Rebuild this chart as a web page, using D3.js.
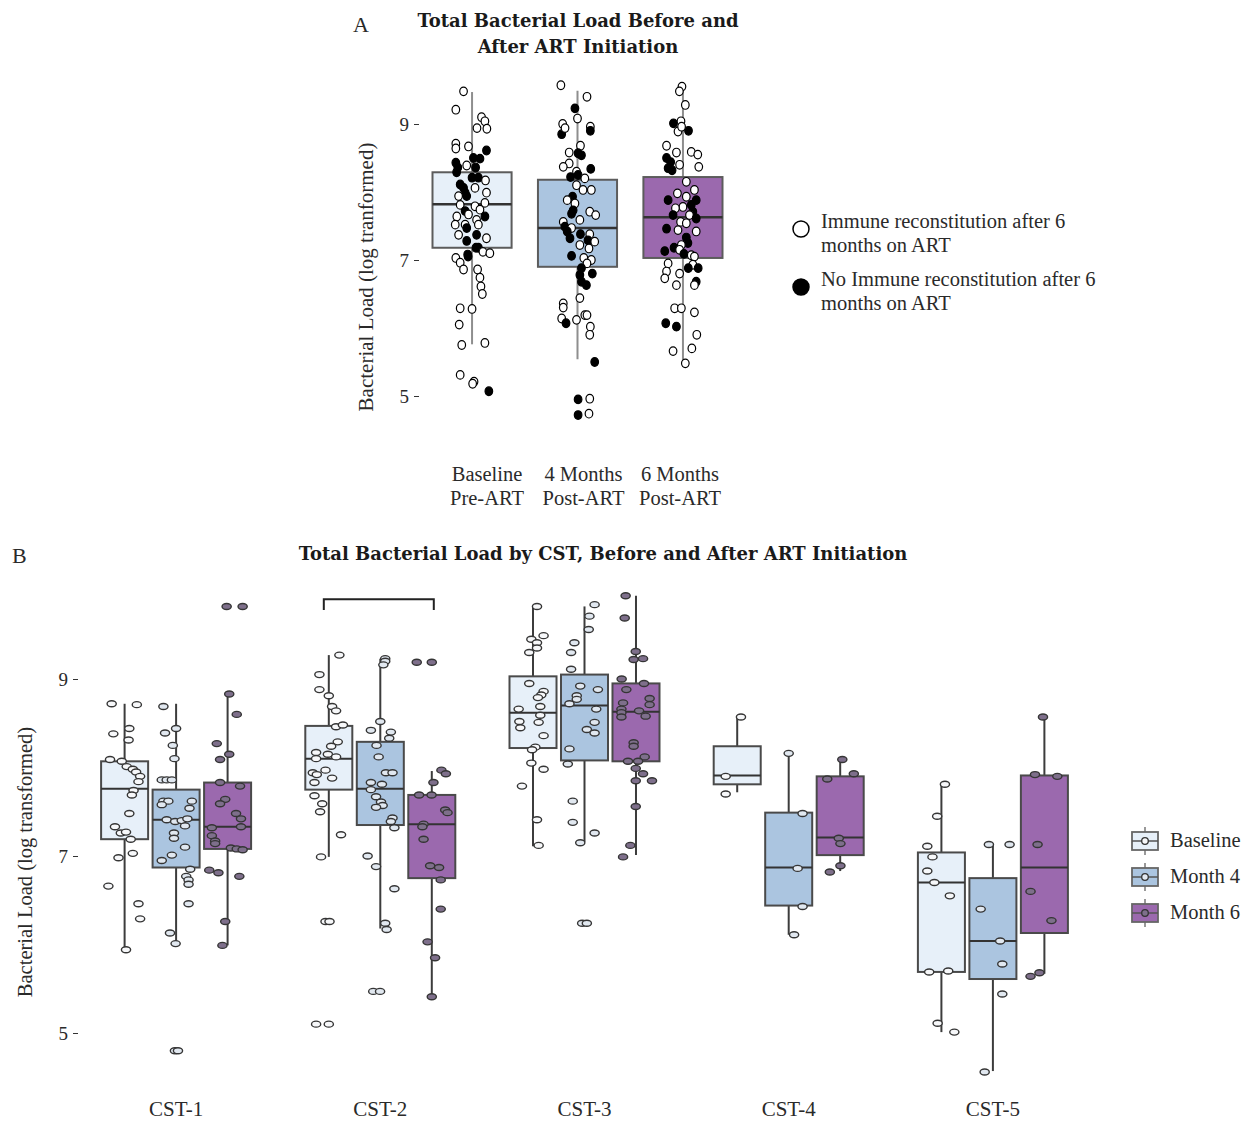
<!DOCTYPE html>
<html>
<head>
<meta charset="utf-8">
<script src="https://cdn.jsdelivr.net/npm/d3@7"></script>
<style>
body{margin:0;background:#fff;}
text{font-family:"Liberation Serif",serif;fill:#2a2a2a;}
.title{font-family:"DejaVu Serif",serif;font-weight:bold;font-size:18px;fill:#1a1a1a;}
</style>
</head>
<body>
<script>
// ---- data: panel A ----
let times = ["Baseline","Month 4","Month 6"];
let timeLabelsA = [["Baseline","Pre-ART"],["4 Months","Post-ART"],["6 Months","Post-ART"]];
// [min, q1, median, q3, max]
let statsA = [[5.76,7.18,7.82,8.29,9.47],[5.54,6.90,7.47,8.18,9.49],[5.49,7.03,7.63,8.22,9.56]];
// [value, jitter, no immune reconstitution]
let ptsA0 = [[9.48,-0.43,0],[9.21,-0.82,0],[9.10,0.48,0],[9.04,0.65,0],[8.94,0.25,0],[8.93,0.75,0],[8.71,-0.82,0],[8.64,-0.82,0],[8.67,-0.18,0],[8.61,0.73,1],[8.50,0.07,1],[8.49,0.40,1],[8.43,-0.82,1],[8.36,-0.72,1],[8.39,-0.27,0],[8.36,0.18,1],[8.29,-0.78,1],[8.11,-0.60,1],[8.06,-0.43,1],[8.21,0.00,1],[8.21,0.32,1],[8.17,0.68,0],[7.99,-0.35,1],[7.94,-0.68,0],[7.94,-0.27,1],[7.99,0.73,0],[8.06,0.15,0],[7.84,0.65,0],[7.81,-0.60,0],[7.79,0.15,0],[7.72,-0.35,1],[7.74,0.40,0],[7.64,-0.77,0],[7.67,-0.18,0],[7.64,0.65,1],[7.59,0.23,0],[7.52,-0.85,0],[7.52,-0.35,0],[7.52,0.32,0],[7.47,-0.27,1],[7.37,-0.68,0],[7.37,0.23,1],[7.32,0.73,0],[7.28,-0.27,1],[7.18,0.20,1],[7.18,0.32,1],[7.12,0.55,0],[7.10,0.90,0],[7.08,-0.22,1],[7.03,-0.82,0],[7.05,-0.20,1],[6.96,-0.60,0],[6.86,-0.43,0],[6.86,0.28,0],[6.74,0.40,0],[6.61,0.45,0],[6.50,0.52,0],[6.29,-0.60,0],[6.28,0.00,0],[6.05,-0.65,0],[5.75,-0.52,0],[5.78,0.65,0],[5.31,-0.60,0],[5.21,0.10,0],[5.18,0.03,0],[5.07,0.85,1]];
let ptsA1 = [[9.57,-0.84,0],[9.40,0.48,0],[9.23,-0.13,1],[9.08,0.00,0],[9.00,-0.75,0],[8.85,-0.80,1],[8.94,-0.63,0],[8.96,0.65,0],[8.90,0.65,1],[8.68,0.15,0],[8.58,-0.42,0],[8.57,0.03,1],[8.54,0.20,1],[8.42,-0.42,0],[8.37,-0.72,0],[8.34,0.67,1],[8.30,-0.05,0],[8.22,-0.35,1],[8.25,0.03,1],[8.20,0.37,0],[8.10,-0.05,0],[8.03,0.28,0],[8.03,0.70,0],[7.93,-0.25,1],[7.88,-0.52,0],[7.83,-0.13,0],[7.73,-0.22,1],[7.68,-0.30,1],[7.71,0.62,0],[7.66,0.92,0],[7.56,-0.72,0],[7.59,0.12,0],[7.49,-0.64,1],[7.47,-0.30,0],[7.42,-0.52,1],[7.38,0.15,1],[7.38,0.62,0],[7.32,-0.38,1],[7.29,0.53,1],[7.27,0.87,0],[7.22,0.12,0],[7.17,0.58,0],[7.06,-0.30,1],[7.03,0.32,0],[7.00,0.70,0],[6.95,0.48,0],[6.88,0.20,1],[6.80,0.75,1],[6.78,0.12,1],[6.68,0.20,1],[6.63,0.45,1],[6.44,0.12,0],[6.36,-0.72,0],[6.30,-0.72,0],[6.14,-0.80,0],[6.07,-0.58,1],[6.12,-0.05,0],[6.19,0.37,0],[6.19,0.48,0],[6.02,0.65,0],[5.90,0.62,0],[5.50,0.87,1],[4.95,0.03,1],[4.96,0.62,0],[4.72,0.03,1],[4.74,0.58,0]];
let ptsA2 = [[9.55,-0.05,0],[9.48,-0.18,0],[9.28,0.12,0],[9.01,-0.48,1],[9.04,-0.10,0],[8.89,-0.25,0],[8.90,0.28,1],[8.96,-0.07,0],[8.68,-0.83,0],[8.58,-0.33,0],[8.59,0.42,0],[8.55,0.75,0],[8.50,-0.83,1],[8.44,-0.62,1],[8.35,-0.75,1],[8.32,-0.55,1],[8.40,-0.17,0],[8.37,0.80,0],[8.15,0.17,0],[7.98,-0.28,0],[8.03,0.58,0],[7.88,-0.75,1],[7.93,0.17,0],[7.88,0.67,1],[7.81,0.42,1],[7.78,0.00,0],[7.76,-0.38,0],[7.71,0.50,1],[7.66,-0.50,1],[7.66,0.33,0],[7.56,-0.12,0],[7.61,0.67,1],[7.54,0.17,0],[7.46,-0.83,1],[7.44,-0.25,0],[7.42,0.67,0],[7.33,0.17,1],[7.25,0.25,1],[7.22,-0.08,0],[7.13,-0.92,1],[7.18,-0.45,1],[7.15,-0.17,0],[7.09,0.05,1],[7.07,0.42,0],[7.05,0.58,0],[6.95,-0.75,0],[6.93,0.50,0],[6.88,0.27,1],[6.88,0.77,1],[6.83,-0.83,0],[6.80,-0.17,0],[6.73,-0.92,0],[6.68,0.67,1],[6.63,0.58,0],[6.63,-0.33,0],[6.29,-0.42,0],[6.29,-0.08,0],[6.23,0.58,0],[6.07,-0.87,1],[6.02,-0.33,1],[5.90,0.70,0],[5.70,0.45,0],[5.66,-0.50,0],[5.48,0.12,0]];
let legendA = [["Immune reconstitution after 6","months on ART"],["No Immune reconstitution after 6","months on ART"]];

// ---- data: panel B ----
let csts = ["CST-1","CST-2","CST-3","CST-4","CST-5"];
let legendB = ["Baseline","Month 4","Month 6"];
let statsB = [
  [[5.95,7.19,7.76,8.07,8.72],[6.00,6.87,7.41,7.75,8.72],[5.99,7.08,7.33,7.83,8.83]],
  [[6.99,7.75,8.10,8.47,9.27],[6.18,7.35,7.76,8.29,9.23],[5.41,6.75,7.36,7.69,7.96]],
  [[7.11,8.22,8.62,9.03,9.82],[7.16,8.08,8.70,9.05,9.82],[7.01,8.07,8.63,8.95,9.94]],
  [[7.72,7.81,7.91,8.24,8.57],[6.11,6.44,6.87,7.49,8.16],[6.83,7.01,7.21,7.90,8.09]],
  [[5.01,5.69,6.70,7.04,7.81],[4.57,5.61,6.04,6.75,7.13],[5.67,6.13,6.87,7.91,8.57]]
];
let ptsCst1 = [
  [[8.72,-0.55],[8.71,0.52],[8.44,0.20],[8.38,-0.48],[8.31,0.17],[8.09,-0.62],[8.07,-0.12],[8.01,0.09],[7.98,0.35],[7.95,0.49],[7.90,0.66],[7.84,0.59],[7.74,0.38],[7.69,0.31],[7.48,0.20],[7.33,-0.41],[7.26,-0.16],[7.27,0.06],[7.19,0.26],[7.03,0.35],[6.98,-0.26],[6.66,-0.69],[6.46,0.59],[6.29,0.66],[5.94,0.06]],
  [[8.69,-0.54],[8.44,0.00],[8.39,-0.47],[8.25,-0.14],[8.10,-0.07],[7.86,-0.61],[7.86,-0.40],[7.86,-0.18],[7.62,-0.54],[7.62,-0.33],[7.62,0.67],[7.58,-0.61],[7.54,0.57],[7.41,-0.40],[7.39,-0.04],[7.40,0.24],[7.42,0.48],[7.34,0.38],[7.26,-0.09],[7.20,-0.09],[7.10,0.38],[7.01,-0.18],[6.95,-0.61],[6.85,0.60],[6.77,0.43],[6.73,0.53],[6.68,0.53],[6.46,0.53],[6.13,-0.26],[6.01,-0.02],[4.80,-0.05],[4.80,0.08]],
  [[9.82,-0.04],[9.82,0.64],[8.83,0.07],[8.60,0.39],[8.27,-0.46],[8.09,-0.32],[8.15,0.07],[7.83,-0.32],[7.79,0.53],[7.64,-0.10],[7.59,-0.32],[7.48,0.36],[7.42,0.57],[7.32,-0.67],[7.33,0.57],[7.23,-0.67],[7.17,-0.53],[7.14,-0.53],[7.09,0.14],[7.08,0.39],[7.07,0.64],[6.84,-0.78],[6.81,-0.39],[6.77,0.50],[6.26,-0.10],[5.99,-0.22]]
];
let ptsCst2 = [
  [[9.27,0.45],[9.05,-0.40],[8.88,-0.40],[8.81,0.00],[8.69,0.14],[8.64,0.31],[8.46,0.31],[8.48,0.60],[8.29,0.38],[8.24,0.10],[8.17,-0.54],[8.15,-0.04],[8.10,-0.54],[8.12,0.31],[7.97,-0.14],[7.94,-0.68],[7.92,-0.51],[7.88,0.14],[7.83,-0.61],[7.68,-0.61],[7.59,-0.28],[7.50,-0.37],[7.24,0.52],[6.99,-0.33],[6.26,-0.14],[6.26,0.03],[5.10,-0.54],[5.10,0.00]],
  [[9.23,0.21],[9.20,0.21],[9.16,0.13],[8.52,0.00],[8.42,-0.40],[8.40,0.45],[8.33,0.38],[8.25,-0.16],[8.12,-0.07],[7.94,0.24],[7.94,0.52],[7.83,-0.40],[7.81,0.07],[7.75,-0.40],[7.67,-0.18],[7.61,0.03],[7.57,0.10],[7.55,-0.18],[7.43,0.52],[7.39,0.45],[7.32,0.60],[7.00,-0.54],[6.88,-0.18],[6.63,0.60],[6.24,0.21],[6.17,0.27],[5.47,-0.30],[5.47,-0.01]],
  [[9.19,-0.64],[9.19,0.00],[7.97,0.41],[7.93,0.60],[7.83,0.07],[7.69,-0.54],[7.69,-0.01],[7.52,0.57],[7.49,0.67],[7.36,-0.35],[7.33,-0.40],[7.19,-0.35],[6.89,-0.07],[6.87,0.31],[6.73,0.38],[6.40,0.38],[6.03,-0.18],[5.85,0.14],[5.41,0.00]]
];
let ptsCst3 = [
  [[9.82,0.17],[9.49,0.45],[9.45,-0.07],[9.41,0.17],[9.35,0.17],[9.30,-0.16],[8.95,-0.16],[8.86,0.45],[8.82,0.35],[8.79,0.21],[8.66,-0.61],[8.69,0.31],[8.52,-0.58],[8.45,-0.54],[8.59,0.31],[8.51,0.24],[8.36,0.45],[8.23,0.10],[8.20,-0.04],[8.05,-0.07],[7.98,0.45],[7.79,-0.47],[7.41,0.17],[7.12,0.24]],
  [[9.84,0.43],[9.71,0.21],[9.56,0.18],[9.41,-0.43],[9.30,-0.57],[9.11,-0.57],[8.92,-0.18],[8.88,0.57],[8.81,-0.33],[8.77,-0.33],[8.72,-0.64],[8.66,0.50],[8.51,0.43],[8.43,0.10],[8.39,0.43],[8.21,-0.64],[8.04,-0.71],[7.62,-0.50],[7.38,-0.50],[7.26,0.43],[7.15,-0.18],[6.24,-0.10],[6.24,0.10]],
  [[9.94,-0.44],[9.69,-0.48],[9.31,-0.01],[9.22,-0.10],[9.23,0.30],[9.00,-0.61],[8.95,0.34],[8.88,-0.41],[8.78,0.58],[8.71,0.58],[8.73,-0.55],[8.66,-0.62],[8.62,-0.62],[8.57,-0.62],[8.64,0.13],[8.58,0.41],[8.28,-0.10],[8.24,-0.10],[8.12,0.37],[8.07,-0.34],[8.07,0.09],[7.99,-0.01],[7.93,0.30],[7.85,-0.01],[7.85,0.68],[7.56,-0.01],[7.12,-0.24],[6.99,-0.55]]
];
let ptsCst4 = [
  [[8.57,0.16],[7.90,-0.49],[7.70,-0.49]],
  [[8.16,0.00],[7.48,0.59],[6.86,0.38],[6.43,0.59],[6.11,0.23]],
  [[8.09,0.09],[7.87,-0.55],[7.93,0.58],[7.20,-0.06],[7.14,0.01],[6.89,0.01],[6.82,-0.44]]
];
let ptsCst5 = [
  [[7.81,0.15],[7.45,-0.18],[7.11,-0.60],[6.99,-0.38],[6.83,-0.60],[6.70,-0.30],[6.55,0.36],[5.69,-0.52],[5.70,0.29],[5.11,-0.16],[5.01,0.55]],
  [[7.13,-0.17],[7.13,0.71],[6.40,-0.52],[6.04,0.31],[5.78,0.40],[5.44,0.40],[4.56,-0.35]],
  [[8.57,-0.06],[7.92,-0.40],[7.90,0.55],[7.13,-0.29],[6.60,-0.59],[6.27,0.30],[5.64,-0.59],[5.68,-0.21]]
];
// significance bracket in CST-2: baseline vs month 6
let bracket = {cst:"CST-2", from:"Baseline", to:"Month 6", top:9.90, foot:9.78};

let boxFills = ["#e7f0f9","#abc5e0","#9b69ae"];
let dotFillsB = ["#f7f8fa","#e1e8f0","#7e6f8b"];

let svg = d3.select("body").append("svg").attr("width",1247).attr("height",1121);

// ================= Panel A =================
let yA = d3.scaleLinear().domain([5,9]).range([396,124]);
let xA = d3.scaleBand().domain(times).range([432.5,722.5]).paddingInner(0.25);
let xLabA = d3.scalePoint().domain(times).range([487,680]);
let gA = svg.append("g");

gA.append("text").attr("x",353).attr("y",32).attr("font-size",22).text("A");
gA.append("text").attr("class","title").attr("x",578).attr("y",27).attr("text-anchor","middle").text("Total Bacterial Load Before and");
gA.append("text").attr("class","title").attr("x",578).attr("y",53).attr("text-anchor","middle").text("After ART Initiation");

let axA = gA.append("g").attr("transform","translate(419,0)")
  .call(d3.axisLeft(yA).tickValues([5,7,9]).tickSize(5).tickPadding(5).tickFormat(d3.format("d")));
axA.select(".domain").remove();
axA.selectAll("line").attr("stroke","#333");
axA.selectAll("text").attr("font-family","Liberation Serif, serif").attr("font-size",19).attr("fill","#2a2a2a");

gA.append("text").attr("transform","translate(373,277) rotate(-90)").attr("text-anchor","middle")
  .attr("font-size",21).text("Bacterial Load (log tranformed)");

let ptsA = [ptsA0,ptsA1,ptsA2];
times.forEach((t,i)=>{
  let s = statsA[i], cx = xA(t)+xA.bandwidth()/2;
  gA.append("line").attr("x1",cx).attr("x2",cx).attr("y1",yA(s[0])).attr("y2",yA(s[4]))
    .attr("stroke","#8e8e8e").attr("stroke-width",2);
  gA.append("rect").attr("x",xA(t)).attr("width",xA.bandwidth())
    .attr("y",yA(s[3])).attr("height",yA(s[1])-yA(s[3]))
    .attr("fill",boxFills[i]).attr("stroke","#5c5c5c").attr("stroke-width",2);
  gA.append("line").attr("x1",xA(t)).attr("x2",xA(t)+xA.bandwidth()).attr("y1",yA(s[2])).attr("y2",yA(s[2]))
    .attr("stroke","#333").attr("stroke-width",2.5);
  gA.selectAll(".pa"+i).data(ptsA[i]).enter().append("ellipse")
    .attr("cx",d=>cx+d[1]*xA.bandwidth()*0.25)
    .attr("cy",d=>yA(d[0]))
    .attr("rx",3.8).attr("ry",4.3)
    .attr("fill",d=>d[2]?"#000":"#fff")
    .attr("stroke","#000").attr("stroke-width",1.2);
  timeLabelsA[i].forEach((l,k)=>{
    gA.append("text").attr("x",xLabA(t)).attr("y",481+k*24).attr("text-anchor","middle")
      .attr("font-size",20.5).text(l);
  });
});

legendA.forEach((lines,i)=>{
  let ly = 229+i*58;
  gA.append("circle").attr("cx",801).attr("cy",ly).attr("r",8)
    .attr("fill",i?"#000":"#fff").attr("stroke","#000").attr("stroke-width",1.5);
  lines.forEach((l,k)=>{
    gA.append("text").attr("x",821).attr("y",ly-1+k*24).attr("font-size",20.5).text(l);
  });
});

// ================= Panel B =================
let yB = d3.scaleLinear().domain([5,9]).range([1033,679]);
let xB = d3.scaleBand().domain(csts).range([74,1095]);
let xSub = d3.scaleBand().domain(times).range([-75,75]).paddingInner(0.087);
let gB = svg.append("g");
let cB = (c,t)=>xB(c)+xB.bandwidth()/2+xSub(t)+xSub.bandwidth()/2;

gB.append("text").attr("x",12).attr("y",563).attr("font-size",22).text("B");
gB.append("text").attr("class","title").attr("x",603).attr("y",560).attr("text-anchor","middle")
  .text("Total Bacterial Load by CST, Before and After ART Initiation");

let axB = gB.append("g").attr("transform","translate(78,0)")
  .call(d3.axisLeft(yB).tickValues([5,7,9]).tickSize(5).tickPadding(5).tickFormat(d3.format("d")));
axB.select(".domain").remove();
axB.selectAll("line").attr("stroke","#333");
axB.selectAll("text").attr("font-family","Liberation Serif, serif").attr("font-size",19).attr("fill","#2a2a2a");

gB.append("text").attr("transform","translate(32,862) rotate(-90)").attr("text-anchor","middle")
  .attr("font-size",20.5).text("Bacterial Load (log transformed)");

let ptsB = [ptsCst1,ptsCst2,ptsCst3,ptsCst4,ptsCst5];
csts.forEach((c,ci)=>{
  times.forEach((t,ti)=>{
    let s = statsB[ci][ti], cx = cB(c,t), x0 = cx-xSub.bandwidth()/2;
    gB.append("line").attr("x1",cx).attr("x2",cx).attr("y1",yB(s[0])).attr("y2",yB(s[4]))
      .attr("stroke","#3c3c3c").attr("stroke-width",2);
    gB.append("rect").attr("x",x0).attr("width",xSub.bandwidth())
      .attr("y",yB(s[3])).attr("height",yB(s[1])-yB(s[3]))
      .attr("fill",boxFills[ti]).attr("stroke","#4a4a4a").attr("stroke-width",2);
    gB.append("line").attr("x1",x0).attr("x2",x0+xSub.bandwidth()).attr("y1",yB(s[2])).attr("y2",yB(s[2]))
      .attr("stroke","#333").attr("stroke-width",2);
    gB.selectAll(".pb"+ci+ti).data(ptsB[ci][ti]).enter().append("ellipse")
      .attr("cx",d=>cx+d[1]*xSub.bandwidth()*0.5)
      .attr("cy",d=>yB(d[0]))
      .attr("rx",4.6).attr("ry",3)
      .attr("fill",dotFillsB[ti]).attr("stroke","#353535").attr("stroke-width",1.4);
  });
  gB.append("text").attr("x",xB(c)+xB.bandwidth()/2).attr("y",1116).attr("text-anchor","middle")
    .attr("font-size",21).text(c);
});

let bx1 = cB(bracket.cst,bracket.from)-5, bx2 = cB(bracket.cst,bracket.to)+2;
gB.append("path")
  .attr("d","M"+bx1+" "+yB(bracket.foot)+"V"+yB(bracket.top)+"H"+bx2+"V"+yB(bracket.foot))
  .attr("fill","none").attr("stroke","#222").attr("stroke-width",2);

legendB.forEach((l,i)=>{
  let ly = 841+i*36;
  gB.append("line").attr("x1",1145).attr("x2",1145).attr("y1",ly-14).attr("y2",ly+14)
    .attr("stroke","#777").attr("stroke-width",1.5);
  gB.append("rect").attr("x",1132).attr("y",ly-9).attr("width",26).attr("height",18)
    .attr("fill",boxFills[i]).attr("stroke","#666").attr("stroke-width",1.8);
  gB.append("line").attr("x1",1132).attr("x2",1158).attr("y1",ly).attr("y2",ly)
    .attr("stroke","#555").attr("stroke-width",1.5);
  gB.append("circle").attr("cx",1145).attr("cy",ly).attr("r",3.3)
    .attr("fill",dotFillsB[i]).attr("stroke","#333").attr("stroke-width",1.3);
  gB.append("text").attr("x",1170).attr("y",ly+6).attr("font-size",20.5).text(l);
});
</script>
</body>
</html>
